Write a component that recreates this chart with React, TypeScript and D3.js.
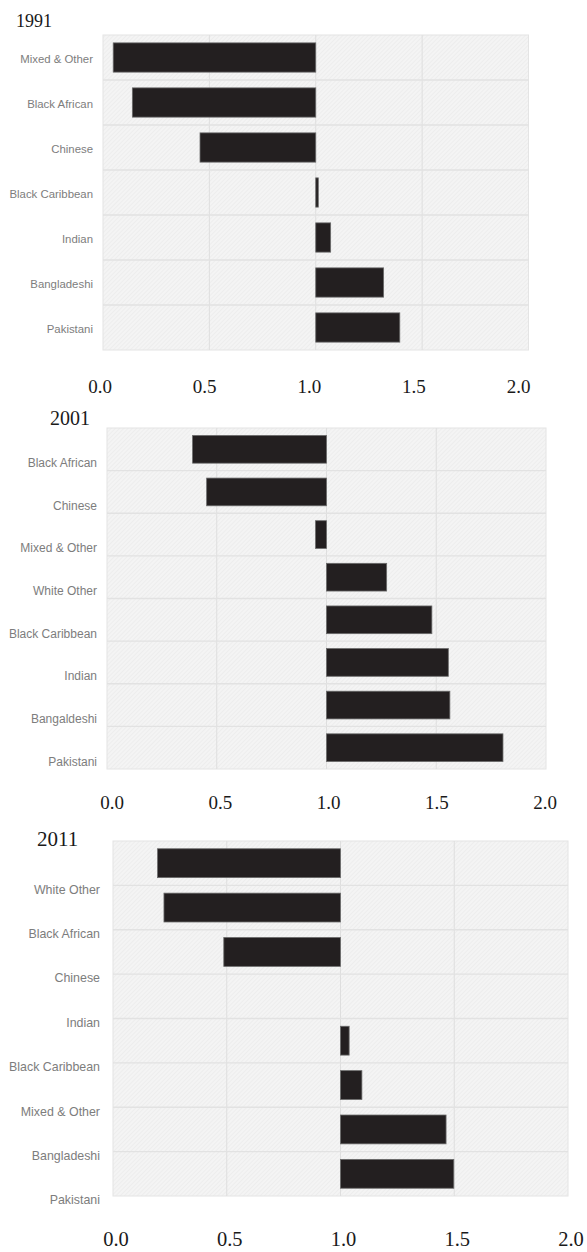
import React from 'react';
import * as d3 from 'd3';

// ---------- data ----------
const years = ['1991', '2001', '2011'];

const cats1991 = ['Mixed & Other', 'Black African', 'Chinese', 'Black Caribbean', 'Indian', 'Bangladeshi', 'Pakistani'];
const vals1991 = [0.048, 0.138, 0.456, 1.012, 1.07, 1.319, 1.395];

const cats2001 = ['Black African', 'Chinese', 'Mixed & Other', 'White Other', 'Black Caribbean', 'Indian', 'Bangaldeshi', 'Pakistani'];
const vals2001 = [0.39, 0.454, 0.95, 1.274, 1.48, 1.555, 1.562, 1.804];

const cats2011 = ['White Other', 'Black African', 'Chinese', 'Indian', 'Black Caribbean', 'Mixed & Other', 'Bangladeshi', 'Pakistani'];
const vals2011 = [0.196, 0.224, 0.487, 1.0, 1.038, 1.094, 1.464, 1.498];

const tickValues = [0, 0.5, 1, 1.5, 2];
const tickLabels = ['0.0', '0.5', '1.0', '1.5', '2.0'];
const xDomain = [0, 2];
const baseline = 1;

// ---------- layout ----------
const W = 587;
const H = 1252;

const panels = [
  {
    year: years[0], cats: cats1991, vals: vals1991,
    left: 103, right: 528.5, top: 35, bottom: 350,
    titleX: 16, titleY: 27, titleSize: 18,
    labelRight: 93, labelSize: 11.4, labelShift: 0.04,
    tickY: 393, tickSize: 19, tickL: -3, tickR: -10,
  },
  {
    year: years[1], cats: cats2001, vals: vals2001,
    left: 107, right: 546, top: 428, bottom: 769,
    titleX: 50, titleY: 425, titleSize: 20,
    labelRight: 97, labelSize: 12, labelShift: 0.32,
    tickY: 809, tickSize: 19, tickL: 5, tickR: -1,
  },
  {
    year: years[2], cats: cats2011, vals: vals2011,
    left: 113, right: 568, top: 841, bottom: 1196,
    titleX: 37, titleY: 846, titleSize: 21,
    labelRight: 100, labelSize: 12.4, labelShift: 0.59,
    tickY: 1246, tickSize: 20.5, tickL: 3, tickR: 3,
  },
];

function Panel({ p }: { p: any }) {
  const x = d3.scaleLinear().domain(xDomain).range([p.left, p.right]);
  const tx = d3.scaleLinear().domain(xDomain).range([p.left + p.tickL, p.right + p.tickR]);
  const pad = 0.35;
  const y = d3.scaleBand<string>().domain(p.cats).range([p.top, p.bottom]).paddingInner(pad).paddingOuter(pad / 2);
  const step = y.step();
  const bw = y.bandwidth();
  const rows = d3.range(1, p.cats.length).map((i) => p.top + i * step);

  return (
    <g>
      <text x={p.titleX} y={p.titleY} fontFamily="'Liberation Serif', 'Times New Roman', serif" fontSize={p.titleSize} fill="#1a1a1a">
        {p.year}
      </text>
      <rect x={p.left} y={p.top} width={p.right - p.left} height={p.bottom - p.top} fill="url(#tex)" stroke="#e4e4e4" strokeWidth={1} />
      {tickValues.slice(1, -1).map((v) => (
        <line key={'v' + v} x1={x(v)} x2={x(v)} y1={p.top} y2={p.bottom} stroke="#dedede" strokeWidth={1} />
      ))}
      {rows.map((ry, i) => (
        <line key={'h' + i} x1={p.left} x2={p.right} y1={ry} y2={ry} stroke="#e2e2e2" strokeWidth={1.4} />
      ))}
      {p.cats.map((c: string, i: number) => {
        const v = p.vals[i];
        const x0 = x(Math.min(v, baseline));
        const w = Math.abs(x(v) - x(baseline));
        if (w < 0.3) return null;
        return (
          <rect key={'b' + c} x={x0} y={y(c)} width={w} height={bw} fill="#231f20" stroke="#6a6a6a" strokeWidth={0.8} />
        );
      })}
      {p.cats.map((c: string) => (
        <text
          key={'l' + c}
          x={p.labelRight}
          y={(y(c) as number) + bw / 2 + p.labelShift * step}
          dy="0.35em"
          textAnchor="end"
          fontFamily="'Liberation Sans', Arial, sans-serif"
          fontSize={p.labelSize}
          fill="#7d7d7d"
        >
          {c}
        </text>
      ))}
      {tickValues.map((v, i) => (
        <text
          key={'t' + v}
          x={tx(v)}
          y={p.tickY}
          textAnchor="middle"
          fontFamily="'Liberation Serif', 'Times New Roman', serif"
          fontSize={p.tickSize}
          fill="#1a1a1a"
        >
          {tickLabels[i]}
        </text>
      ))}
    </g>
  );
}

export default function App() {
  return (
    <svg
      width={W}
      height={H}
      viewBox={`0 0 ${W} ${H}`}
      style={{ position: 'absolute', left: 0, top: 0, background: '#ffffff' }}
    >
      <defs>
        <pattern id="tex" width="3" height="3" patternUnits="userSpaceOnUse" patternTransform="rotate(45)">
          <rect width="3" height="3" fill="#f4f4f4" />
          <line x1="0" y1="0" x2="0" y2="3" stroke="#e7e7e7" strokeWidth="1" />
        </pattern>
      </defs>
      <rect width={W} height={H} fill="#ffffff" />
      {panels.map((p) => (
        <Panel key={p.year} p={p} />
      ))}
    </svg>
  );
}
